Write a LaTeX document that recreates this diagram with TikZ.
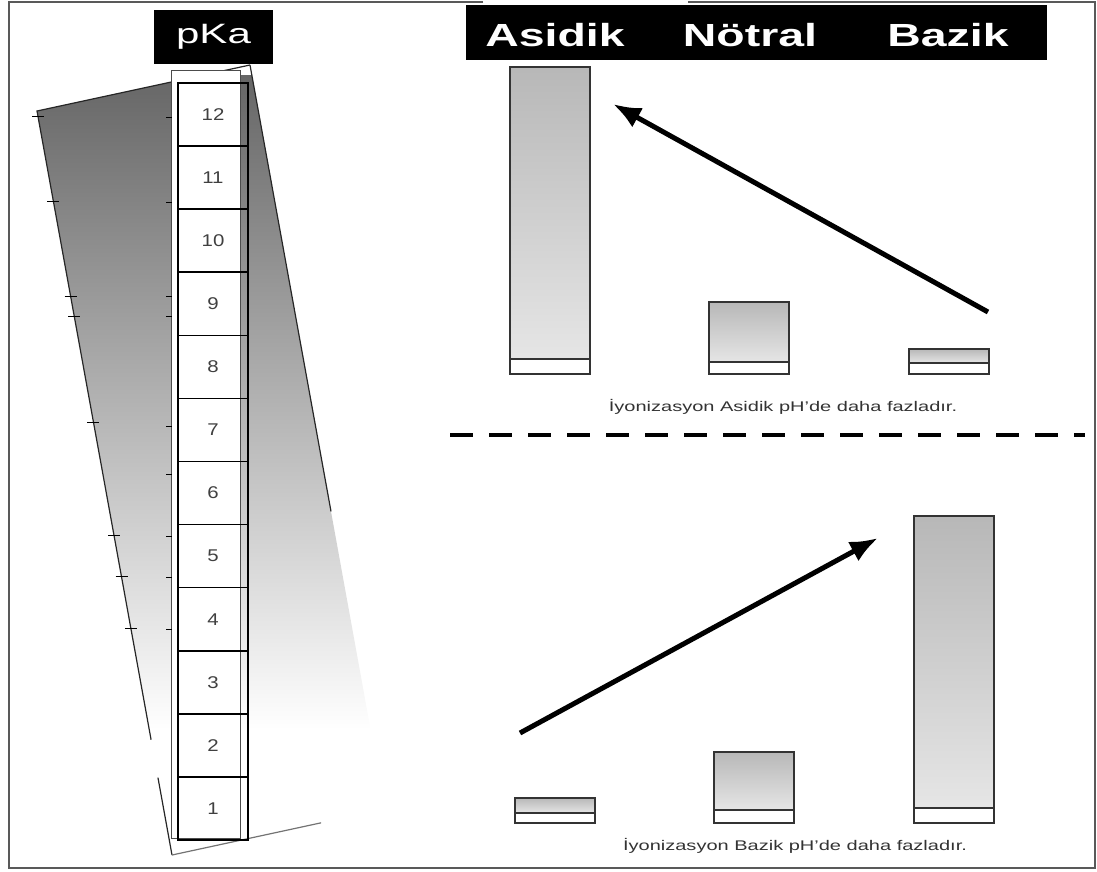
\documentclass[tikz,border=0pt]{standalone}
\usepackage{fontspec}
\setmainfont{Liberation Sans}
\usetikzlibrary{arrows.meta,calc}

\tikzset{
  edge/.style={black!85, line width=1.2pt},
  tick/.style={black, line width=1pt},
  cell/.style={draw=black, line width=1.6pt, minimum width=70pt, minimum height=63.08pt, inner sep=0pt, text=black!75, font=\fontsize{17}{17}\selectfont},
  hdr/.style={text=white, font=\bfseries\fontsize{32}{32}\selectfont, xscale=1.45, anchor=base, inner sep=0pt},
  bar/.style={draw=black!80, line width=1.8pt},
  trend/.style={line width=5pt, -{Latex[length=28pt,width=22pt]}},
  note/.style={text=black!80, font=\fontsize{14}{14}\selectfont, xscale=1.43, inner sep=0pt}
}

\begin{document}
\begin{tikzpicture}[x=1pt, y=-1pt]
        \useasboundingbox (0,0) rectangle (1097,871);

        \coordinate (P1) at (37,111);
        \coordinate (P2) at (250,65);
        \coordinate (P3) at (385,809);
        \coordinate (P4) at (172,855);

        \begin{scope}
            \clip (P1) -- (P2) -- (P3) -- (P4) -- cycle;
            \shade[top color=black!60, middle color=black!30, bottom color=white] (20,75) rectangle (400,730);
        \end{scope}
        \draw[edge] (P2) -- (P1) -- ($(P1)!0.845!(P4)$);
        \draw[edge] ($(P1)!0.896!(P4)$) -- (P4);
        \draw[black!55, line width=1.2pt] (P4) -- ($(P4)!0.7!(P3)$);
        \draw[edge] (P2) -- ($(P2)!0.6!(P3)$);
        \foreach \t in {0.008,0.122,0.249,0.276,0.418,0.571,0.626,0.696}
            \draw[tick] ($(P1)!\t!(P4)$) +(-6,0) -- +(6,0);

        \draw[black!70, line width=0.8pt, fill=white] (171,70) rectangle (240,838);
        \foreach \ty in {117,202,296,316,426,474,536,577,629}
            \draw[tick] (166,\ty) -- (172,\ty);
        \foreach \n in {1,...,12}
            \node[cell] (c\n) at (213,{840-(\n-0.5)*63.08}) {\scalebox{1.2}[1]{\n}};

        \node[fill=black, text=white, minimum width=119pt, minimum height=54pt, inner sep=0pt, font=\fontsize{28}{28}\selectfont] (pka) at (213.5,37) {\scalebox{1.5}[1]{pKa}};

        \node[fill=black, minimum width=581pt, minimum height=55pt, inner sep=0pt] (head) at (756.5,32.5) {};
        \node[hdr] (asidik) at (555,46) {Asidik};
        \node[hdr] (notral) at (750,46) {Nötral};
        \node[hdr] (bazik) at (948,46) {Bazik};

        \foreach \bx/\btop/\bdiv/\bbot in {510/67/359/374, 709/302/362/374, 909/349/363/374, 515/798/813/823, 714/752/810/823, 914/516/808/823} {
            \shade[top color=black!28, bottom color=black!10] (\bx,\btop) rectangle (\bx+80,\bdiv);
            \draw[bar] (\bx,\btop) rectangle (\bx+80,\bbot);
            \draw[bar] (\bx,\bdiv) -- (\bx+80,\bdiv);
        }

        \coordinate (upTail) at (988,312);
        \coordinate (upHead) at (613,104);
        \draw[trend] (upTail) -- (upHead);
        \coordinate (lowTail) at (520,733);
        \coordinate (lowHead) at (878,538);
        \draw[trend] (lowTail) -- (lowHead);

        \coordinate (divL) at (450,435);
        \coordinate (divR) at (1085,435);
        \draw[line width=4pt, dash pattern=on 23pt off 16pt] (divL) -- (divR);

        \node[note] (noteUp) at (783,407) {İyonizasyon Asidik pH'de daha fazladır.};
        \node[note] (noteLow) at (795,846) {İyonizasyon Bazik pH'de daha fazladır.};

        \draw[black!65, line width=2pt] (483,2) -- (9,2) -- (9,868) -- (1095,868) -- (1095,2) -- (688,2);
    \end{tikzpicture}
\end{document}
